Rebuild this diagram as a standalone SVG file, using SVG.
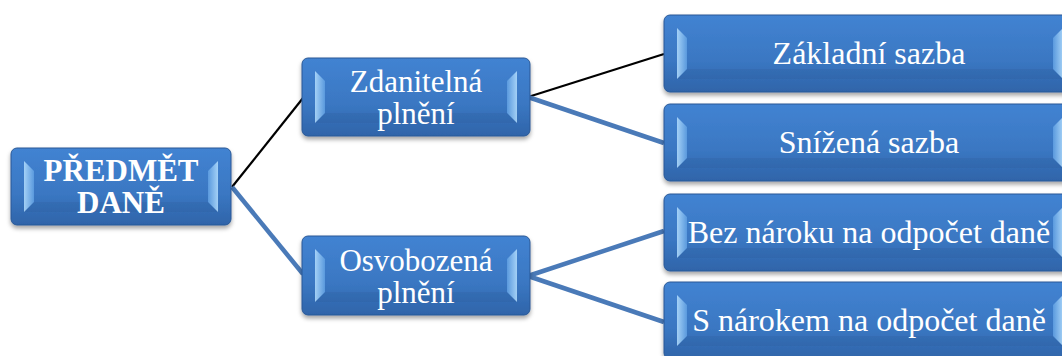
<svg xmlns="http://www.w3.org/2000/svg" width="1062" height="356" viewBox="0 0 1062 356">
<defs>
<linearGradient id="fill" x1="0" y1="0" x2="0" y2="1">
<stop offset="0" stop-color="#4283d2"/>
<stop offset="0.6" stop-color="#3a77c2"/>
<stop offset="1" stop-color="#2f64a9"/>
</linearGradient>
<linearGradient id="bevL" x1="0" y1="0" x2="1" y2="0">
<stop offset="0" stop-color="#b6e0ff"/>
<stop offset="1" stop-color="#5f9fe2"/>
</linearGradient>
<linearGradient id="bevR" x1="1" y1="0" x2="0" y2="0">
<stop offset="0" stop-color="#b6e0ff"/>
<stop offset="1" stop-color="#5f9fe2"/>
</linearGradient>
<filter id="sh" x="-10%" y="-20%" width="120%" height="150%">
<feDropShadow dx="0" dy="3" stdDeviation="2" flood-color="#000" flood-opacity="0.35"/>
</filter>
<style>
.box{fill:url(#fill);stroke:#2a5896;stroke-width:1;filter:url(#sh)}
.bl{fill:url(#bevL);opacity:0.85}
.br{fill:url(#bevR);opacity:0.85}
.bb{fill:#0a2a5a;opacity:0.07}
text{font-family:'Liberation Serif','Times New Roman',serif;font-size:31px;fill:#ffffff;text-anchor:middle}
.tb{font-weight:bold;font-size:31px}
.tr{font-size:32px}
.cb{stroke:#000000;stroke-width:2.2;fill:none}
.cu{stroke:#4a7ab8;stroke-width:4.5;fill:none}
</style>
</defs>
<rect width="1062" height="356" fill="#ffffff"/>
<g id="connectors">
<line class="cb" x1="232" y1="187" x2="303" y2="98"/>
<line class="cu" x1="232" y1="187" x2="303" y2="274"/>
<line class="cb" x1="528" y1="97" x2="664" y2="54"/>
<line class="cu" x1="528" y1="97" x2="664" y2="143"/>
<line class="cu" x1="528" y1="276" x2="664" y2="231"/>
<line class="cu" x1="528" y1="276" x2="664" y2="322"/>
</g>
<g id="root">
<rect class="box" x="11" y="148" width="220" height="77" rx="6"/>
<polygon class="bb" points="24,212 218,212 208,202 34,202"/>
<polygon class="bl" points="24,161 34,171 34,202 24,212"/>
<polygon class="br" points="218,161 208,171 208,202 218,212"/>
<text class="tb" x="121" y="181" font-family="Liberation Serif, serif">PŘEDMĚT</text>
<text class="tb" x="121" y="213" font-family="Liberation Serif, serif">DANĚ</text>
</g>
<g id="zdanitelna">
<rect class="box" x="302" y="58" width="228" height="78" rx="6"/>
<polygon class="bb" points="315,123 517,123 507,113 325,113"/>
<polygon class="bl" points="315,71 325,81 325,113 315,123"/>
<polygon class="br" points="517,71 507,81 507,113 517,123"/>
<text x="416" y="92" font-family="Liberation Serif, serif">Zdanitelná</text>
<text x="416" y="124" font-family="Liberation Serif, serif">plnění</text>
</g>
<g id="osvobozena">
<rect class="box" x="302" y="236" width="228" height="79" rx="6"/>
<polygon class="bb" points="315,302 517,302 507,292 325,292"/>
<polygon class="bl" points="315,249 325,259 325,292 315,302"/>
<polygon class="br" points="517,249 507,259 507,292 517,302"/>
<text x="416" y="271" font-family="Liberation Serif, serif">Osvobozená</text>
<text x="416" y="303" font-family="Liberation Serif, serif">plnění</text>
</g>
<g id="zakladni">
<rect class="box" x="664" y="15" width="412" height="77" rx="6"/>
<polygon class="bb" points="677,79 1063,79 1053,69 687,69"/>
<polygon class="bl" points="677,28 687,38 687,69 677,79"/>
<polygon class="br" points="1063,28 1053,38 1053,69 1063,79"/>
<text class="tr" x="869" y="64" font-family="Liberation Serif, serif">Základní sazba</text>
</g>
<g id="snizena">
<rect class="box" x="664" y="104" width="412" height="77" rx="6"/>
<polygon class="bb" points="677,168 1063,168 1053,158 687,158"/>
<polygon class="bl" points="677,117 687,127 687,158 677,168"/>
<polygon class="br" points="1063,117 1053,127 1053,158 1063,168"/>
<text class="tr" x="869" y="153" font-family="Liberation Serif, serif">Snížená sazba</text>
</g>
<g id="bez">
<rect class="box" x="664" y="194" width="412" height="77" rx="6"/>
<polygon class="bb" points="677,258 1063,258 1053,248 687,248"/>
<polygon class="bl" points="677,207 687,217 687,248 677,258"/>
<polygon class="br" points="1063,207 1053,217 1053,248 1063,258"/>
<text class="tr" x="869" y="243" font-family="Liberation Serif, serif">Bez nároku na odpočet daně</text>
</g>
<g id="snarokem">
<rect class="box" x="664" y="282" width="412" height="77" rx="6"/>
<polygon class="bb" points="677,346 1063,346 1053,336 687,336"/>
<polygon class="bl" points="677,295 687,305 687,336 677,346"/>
<polygon class="br" points="1063,295 1053,305 1053,336 1063,346"/>
<text class="tr" x="869" y="331" font-family="Liberation Serif, serif">S nárokem na odpočet daně</text>
</g>
</svg>
